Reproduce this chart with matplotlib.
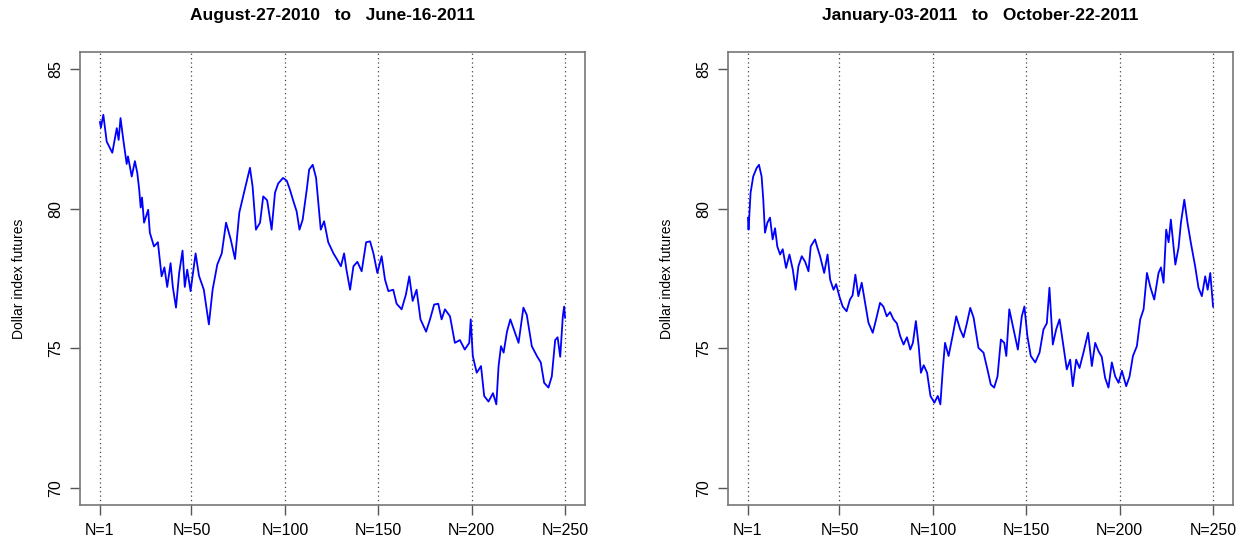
import numpy as np
import matplotlib
matplotlib.use('Agg')
import matplotlib.pyplot as plt

plt.rcParams['font.family'] = ['Liberation Sans', 'DejaVu Sans']

# left panel: August-27-2010 to June-16-2011
n_left = [1, 1.5, 2.8, 4.6, 7.6, 10, 11, 12, 13.5, 15.3, 16, 18, 19.7, 21, 22, 22.8, 23.5,
          24.6, 26.8, 27.7, 29.9, 32, 34, 35.5, 37, 38.8, 40, 41.7, 43.4, 45.2, 46.4, 47.7,
          49.5, 52.2, 54, 56.6, 59.3, 61.3, 63.8, 66.2, 68.5, 71, 73.3, 75.6, 78.1, 81.3,
          82.7, 84.5, 86.7, 88.4, 90.5, 92.9, 94.7, 96.4, 99, 101, 102.6, 104.4, 106.3,
          107.8, 109.5, 111.7, 113, 114.9, 116.7, 117.9, 119.2, 121, 123.2, 126, 127.8,
          130, 131.7, 133, 134.9, 136.7, 138.8, 141.1, 143.5, 145.6, 147.4, 149.5, 151.8,
          153.6, 155.4, 158, 159.8, 162.5, 164.8, 166.6, 168.4, 170.5, 172.6, 175.6, 177.7,
          179.9, 182.1, 183.9, 185.7, 188.4, 191, 193.7, 196.3, 198.7, 199.5, 200.6, 202.7,
          205, 206.7, 209, 211.4, 213.2, 214.4, 215.7, 217.1, 218.9, 220.7, 222.5, 225.1,
          227.7, 229.5, 232.2, 234.9, 237, 238.8, 241.1, 242.9, 244.7, 246, 247.4, 248.8,
          249.5, 250]
v_left = [83.1, 82.9, 83.36, 82.4, 82.0, 82.88, 82.46, 83.24, 82.46, 81.6, 81.87, 81.15,
          81.7, 81.27, 80.68, 80.04, 80.4, 79.5, 79.96, 79.14, 78.65, 78.8, 77.58, 77.9,
          77.2, 78.05, 77.2, 76.46, 77.7, 78.5, 77.2, 77.82, 77.05, 78.4, 77.6, 77.1, 75.86,
          77.1, 78.0, 78.4, 79.5, 78.9, 78.2, 79.86, 80.57, 81.46, 80.8, 79.25, 79.5, 80.44,
          80.3, 79.25, 80.57, 80.9, 81.1, 81.0, 80.7, 80.3, 79.9, 79.25, 79.6, 80.68, 81.4,
          81.57, 81.1, 80.2, 79.25, 79.55, 78.8, 78.4, 78.2, 77.94, 78.4, 77.8, 77.1, 77.94,
          78.1, 77.76, 78.8, 78.83, 78.4, 77.7, 78.3, 77.46, 77.05, 77.1, 76.6, 76.4, 76.93,
          77.58, 76.7, 77.1, 76.04, 75.6, 76.04, 76.57, 76.6, 76.04, 76.4, 76.15, 75.2, 75.3,
          74.96, 75.2, 76.04, 74.73, 74.13, 74.37, 73.3, 73.1, 73.4, 73.0, 74.37, 75.08,
          74.85, 75.6, 76.04, 75.7, 75.2, 76.46, 76.2, 75.08, 74.73, 74.5, 73.77, 73.6, 74.0,
          75.3, 75.4, 74.7, 76.15, 76.5, 76.1]

# right panel: January-03-2011 to October-22-2011
n_right = [1, 1.3, 2.4, 3.8, 5.6, 6.9, 8.3, 9.2, 10.1, 11.4, 12.8, 14.2, 15.5, 16.7, 18.2,
           19.6, 21.4, 23.2, 25, 26.5, 28, 29.8, 31.6, 33.4, 34.6, 36.9, 38.2, 39.6, 41.8,
           43.6, 45, 46.8, 48.2, 49.9, 51.7, 53.8, 55.6, 57, 58.5, 60.1, 61.9, 63.7, 65.5,
           67.8, 69.6, 71.7, 73.5, 75.3, 77.1, 78.9, 80.7, 82.5, 84.3, 86.1, 87.9, 89.3,
           90.9, 92.4, 93.6, 95.1, 96.9, 98.7, 100.8, 102.6, 104, 105.3, 106.5, 108.4, 110.7,
           112.5, 114.6, 116.4, 118.2, 120, 121.8, 124.4, 127.1, 129.2, 131, 132.8, 134.6,
           136.4, 138.2, 139.3, 140.9, 142.8, 145.5, 147.6, 149, 150.6, 152.4, 154.8, 157.1,
           159.2, 161, 162.4, 164.2, 166, 167.8, 169.9, 171.7, 173.5, 174.9, 176.7, 178.5,
           180.6, 183.1, 185.1, 186.9, 188.7, 190.4, 192.2, 194, 195.8, 197.6, 199.4, 201.2,
           203.5, 205.3, 207.1, 209.2, 211, 212.8, 214.6, 216.4, 218.5, 220.8, 222.1, 223.5,
           224.9, 226.2, 227.4, 229.8, 231.5, 232.8, 234.6, 236.3, 238.1, 240.4, 242.2, 244,
           245.8, 247.1, 248.5, 250]
v_right = [79.67, 79.25, 80.57, 81.15, 81.45, 81.57, 81.15, 80.32, 79.14, 79.5, 79.68, 78.9,
           79.3, 78.65, 78.36, 78.55, 77.88, 78.36, 77.82, 77.1, 77.94, 78.3, 78.1, 77.76,
           78.65, 78.9, 78.6, 78.3, 77.7, 78.36, 77.46, 77.1, 77.3, 76.87, 76.5, 76.33,
           76.75, 76.9, 77.64, 76.87, 77.35, 76.63, 75.92, 75.56, 76.04, 76.63, 76.5, 76.15,
           76.3, 76.04, 75.9, 75.44, 75.14, 75.4, 74.96, 75.2, 75.98, 75.08, 74.13, 74.4,
           74.13, 73.3, 73.06, 73.3, 73.0, 74.25, 75.2, 74.73, 75.5, 76.15, 75.68, 75.4, 75.9,
           76.45, 76.1, 75.02, 74.85, 74.25, 73.71, 73.6, 74.0, 75.32, 75.2, 74.73, 76.4,
           75.8, 74.96, 76.15, 76.5, 75.44, 74.73, 74.5, 74.85, 75.68, 75.9, 77.17, 75.14,
           75.68, 76.04, 75.08, 74.25, 74.6, 73.65, 74.6, 74.3, 74.85, 75.56, 74.37, 75.2,
           74.9, 74.7, 73.95, 73.6, 74.5, 74.0, 73.77, 74.2, 73.65, 74.0, 74.73, 75.08, 76.04,
           76.4, 77.7, 77.2, 76.75, 77.7, 77.9, 77.35, 79.25, 78.8, 79.61, 78.0, 78.6, 79.5,
           80.32, 79.5, 78.78, 77.94, 77.17, 76.87, 77.58, 77.1, 77.7, 76.5]

titles = ['August-27-2010   to   June-16-2011', 'January-03-2011   to   October-22-2011']
xticks = [1, 50, 100, 150, 200, 250]
xlabels = ['N=1', 'N=50', 'N=100', 'N=150', 'N=200', 'N=250']
yticks = [70, 75, 80, 85]

fig = plt.figure(figsize=(12.44, 5.43), dpi=100)
ax1 = fig.add_axes([0.0643, 0.070, 0.406, 0.834])
ax2 = fig.add_axes([0.5852, 0.070, 0.406, 0.834])

for ax, n, v, t in [(ax1, n_left, v_left, titles[0]), (ax2, n_right, v_right, titles[1])]:
    for xt in xticks:
        ax.axvline(xt, color='#444444', linestyle=(0, (1, 2.5)), linewidth=0.9, zorder=1)
    ax.plot(n, v, color='blue', linewidth=1.3, zorder=2)
    ax.set_xlim(-9.7, 260.7)
    ax.set_ylim(69.4, 85.6)
    ax.set_xticks(xticks)
    ax.set_xticklabels(xlabels, fontsize=11.5)
    ax.set_yticks(yticks)
    ax.set_yticklabels([str(y) for y in yticks], fontsize=11.5, rotation=90, va='center')
    ax.tick_params(direction='out', length=7, color='#555555', width=1, pad=5)
    ax.tick_params(axis='x', pad=6)
    for s in ax.spines.values():
        s.set_color('#777777')
        s.set_linewidth(1.2)
    ax.set_ylabel('Dollar index futures', fontsize=10, labelpad=16)
    ax.set_title(t, fontsize=12.5, fontweight='bold', pad=23)

fig.savefig('out.png', dpi=100)
